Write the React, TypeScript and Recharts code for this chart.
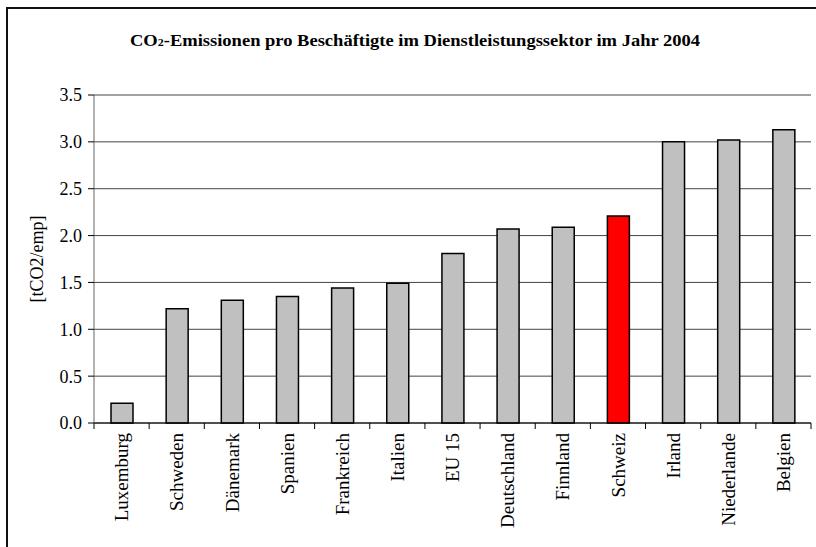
import React from 'react';
import { BarChart, Bar, XAxis, YAxis, CartesianGrid, Cell, Label } from 'recharts';

const categories = ['Luxemburg', 'Schweden', 'Dänemark', 'Spanien', 'Frankreich', 'Italien', 'EU 15', 'Deutschland', 'Finnland', 'Schweiz', 'Irland', 'Niederlande', 'Belgien'];
const values = [0.21, 1.22, 1.31, 1.35, 1.44, 1.49, 1.81, 2.07, 2.09, 2.21, 3.0, 3.02, 3.13];
const highlighted = 'Schweiz';
const yTicks = [0, 0.5, 1.0, 1.5, 2.0, 2.5, 3.0, 3.5];
const yLabel = '[tCO2/emp]';
const titleMain = 'CO';
const titleSub = '2';
const titleRest = '-Emissionen pro Beschäftigte im Dienstleistungssektor im Jahr 2004';

const data = categories.map((name, i) => ({ name, value: values[i] }));

const FONT = '"Liberation Serif", "Times New Roman", serif';

const CategoryTick = (props: any) => {
  const { x, y, payload, index, width } = props;
  const bw = width / categories.length;
  const isLast = index === categories.length - 1;
  return (
    <g>
      <line x1={x - bw / 2} x2={x - bw / 2} y1={y} y2={y + 6} stroke="#000" strokeWidth={1} />
      {isLast && <line x1={x + bw / 2} x2={x + bw / 2} y1={y} y2={y + 6} stroke="#000" strokeWidth={1} />}
      <g transform={`translate(${x},${y + 10}) rotate(-90)`}>
        <text x={0} y={0} dy="0.35em" textAnchor="end" fontFamily={FONT} fontSize={19} fill="#000">
          {payload.value}
        </text>
      </g>
    </g>
  );
};

const YLabelContent = (props: any) => {
  const vb = props.viewBox || {};
  const cx = vb.x + 37;
  const cy = vb.y + vb.height / 2;
  return (
    <text x={cx} y={cy} transform={`rotate(-90, ${cx}, ${cy})`} textAnchor="middle" dominantBaseline="central" fontFamily={FONT} fontSize={18} fill="#000">
      {yLabel}
    </text>
  );
};

export default function App() {
  return (
    <div style={{ position: 'absolute', left: 0, top: 0, width: 816, height: 547, overflow: 'hidden', background: '#fff' }}>
      <div style={{ position: 'absolute', left: 6, top: 7, width: 810, height: 540, borderLeft: '2px solid #111', borderTop: '2px solid #111', boxSizing: 'border-box' }} />
      <svg width={816} height={70} style={{ position: 'absolute', left: 0, top: 0 }}>
        <text x={415} y={46} textAnchor="middle" fontFamily={FONT} fontWeight="bold" fontSize={17} fill="#000" textLength={570} lengthAdjust="spacingAndGlyphs">
          <tspan>{titleMain}</tspan>
          <tspan fontSize={11}>{titleSub}</tspan>
          <tspan>{titleRest}</tspan>
        </text>
      </svg>
      <div style={{ position: 'absolute', left: 0, top: 0 }}>
        <BarChart width={816} height={547} data={data} margin={{ top: 95, right: 5, bottom: 0, left: 0 }} barSize={22}>
          <CartesianGrid vertical={false} stroke="#444" strokeWidth={1} />
          <XAxis
            dataKey="name"
            interval={0}
            tickLine={false}
            tickSize={0}
            tickMargin={0}
            axisLine={{ stroke: '#000', strokeWidth: 1 }}
            tick={<CategoryTick />}
            height={124}
          />
          <YAxis
            width={94}
            domain={[0, 3.5]}
            ticks={yTicks}
            interval={0}
            tickFormatter={(v: number) => v.toFixed(1)}
            tickSize={6}
            tickMargin={6}
            axisLine={{ stroke: '#666', strokeWidth: 1 }}
            tickLine={{ stroke: '#000' }}
            tick={{ fontFamily: FONT, fontSize: 18, fill: '#000' }}
          >
            <Label content={<YLabelContent />} />
          </YAxis>
          <Bar dataKey="value" stroke="#000" strokeWidth={1.5} isAnimationActive={false}>
            {data.map((d) => (
              <Cell key={d.name} fill={d.name === highlighted ? '#ff0000' : '#c0c0c0'} />
            ))}
          </Bar>
        </BarChart>
      </div>
    </div>
  );
}
